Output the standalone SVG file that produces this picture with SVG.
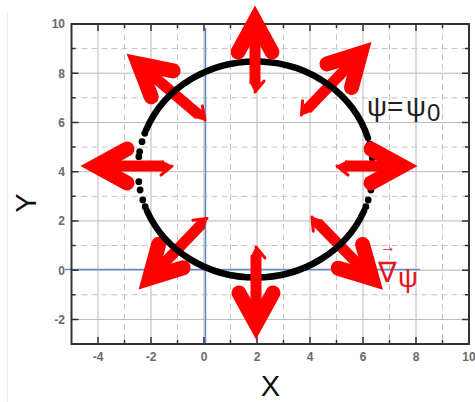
<svg xmlns="http://www.w3.org/2000/svg" xmlns:xlink="http://www.w3.org/1999/xlink" width="475" height="402" viewBox="0 0 475 402">
<style>
.gs{stroke:#b8b8b8;stroke-width:1;fill:none}
.gd{stroke:#c4c4c4;stroke-width:1;stroke-dasharray:6 4;fill:none}
.tk{stroke:#333;stroke-width:1.5;fill:none}
.tl{font-family:"Liberation Sans",Arial,sans-serif;font-size:12px;font-weight:bold;fill:#6a6a6a}
.ax{font-family:"Liberation Sans",Arial,sans-serif;font-size:29px;fill:#111}
.sh{stroke:#ff0000;stroke-width:11}
.blue{stroke:#5a8ed0;stroke-width:1.5;fill:none}
.dot{fill:#000}
</style>
<defs>
<g id="head"><polyline points="-47,-17 -16,0 -47,17" fill="none" stroke="#ff0000" stroke-width="15" stroke-linecap="round" stroke-linejoin="miter" stroke-miterlimit="4"/></g>
<g id="tail"><polygon points="-1,0 10,-5.5 10,5.5" fill="#ff0000"/><line x1="0" y1="0" x2="11" y2="9" stroke="#ff0000" stroke-width="3" stroke-linecap="round"/></g>
</defs>
<rect width="475" height="402" fill="#fff"/>
<line x1="7.5" y1="13" x2="7.5" y2="402" stroke="#ececec" stroke-width="1"/>
<g id="grid">
<path class="gs" d="M98 24V344M151 24V344M204 24V344M257 24V344M310 24V344M363 24V344M416 24V344"/>
<path class="gd" d="M124.5 24V344M177.5 24V344M230.5 24V344M283.5 24V344M336.5 24V344M389.5 24V344M442.5 24V344"/>
<path class="gs" d="M71.5 319.4H469M71.5 270.2H469M71.5 220.9H469M71.5 171.7H469M71.5 122.5H469M71.5 73.2H469"/>
<path class="gd" d="M71.5 294.8H469M71.5 245.5H469M71.5 196.3H469M71.5 147.1H469M71.5 97.8H469M71.5 48.6H469"/>
</g>
<g id="zero-lines">
<path class="blue" d="M205.5 28V344M65 269.5H420"/>
</g>
<g id="axes">
<rect x="71.5" y="24" width="397.5" height="320" fill="none" stroke="#333" stroke-width="2"/>
<path class="tk" d="M98 344V337M151 344V337M204 344V337M257 344V337M310 344V337M363 344V337M416 344V337M98 24V31M151 24V31M204 24V31M257 24V31M310 24V31M363 24V31M416 24V31M71.5 319.4H78.5M71.5 270.2H78.5M71.5 220.9H78.5M71.5 171.7H78.5M71.5 122.5H78.5M71.5 73.2H78.5M469 319.4H462M469 270.2H462M469 220.9H462M469 171.7H462M469 122.5H462M469 73.2H462"/>
<path class="tk" d="M124.5 344V340M177.5 344V340M230.5 344V340M283.5 344V340M336.5 344V340M389.5 344V340M442.5 344V340M124.5 24V28M177.5 24V28M230.5 24V28M283.5 24V28M336.5 24V28M389.5 24V28M442.5 24V28M71.5 294.8H75.5M71.5 245.5H75.5M71.5 196.3H75.5M71.5 147.1H75.5M71.5 97.8H75.5M71.5 48.6H75.5M469 294.8H465M469 245.5H465M469 196.3H465M469 147.1H465M469 97.8H465M469 48.6H465"/>
<g class="tl" text-anchor="end">
<text x="65" y="28.3">10</text><text x="65" y="77.5">8</text><text x="65" y="126.8">6</text><text x="65" y="176">4</text><text x="65" y="225.2">2</text><text x="65" y="274.5">0</text><text x="65" y="323.7">-2</text>
</g>
<g class="tl" text-anchor="middle">
<text x="98" y="361">-4</text><text x="151" y="361">-2</text><text x="204" y="361">0</text><text x="257" y="361">2</text><text x="310" y="361">4</text><text x="363" y="361">6</text><text x="416" y="361">8</text><text x="469" y="361">10</text>
</g>
<text class="ax" x="270.5" y="396" text-anchor="middle">X</text>
<text class="ax" transform="translate(36,203) rotate(-90)" text-anchor="middle">Y</text>
</g>
<g id="connectors">
<g id="arrow-ne" transform="translate(301.5,115) rotate(-46.2) scale(1,-1)"><line class="sh" x1="8" y1="0" x2="80" y2="0"/><use xlink:href="#tail" href="#tail"/><use xlink:href="#head" href="#head" x="101.5"/></g>
<g id="arrow-nw" transform="translate(205,120) rotate(-139.8)"><line class="sh" x1="8" y1="0" x2="82" y2="0"/><use xlink:href="#tail" href="#tail"/><use xlink:href="#head" href="#head" x="103"/></g>
<g id="arrow-sw" transform="translate(207,218.5) rotate(133.9)"><line class="sh" x1="8" y1="0" x2="78" y2="0"/><use xlink:href="#tail" href="#tail"/><use xlink:href="#head" href="#head" x="99"/></g>
<g id="arrow-se" transform="translate(312,217) rotate(45.7)"><line class="sh" x1="8" y1="0" x2="81" y2="0"/><use xlink:href="#tail" href="#tail"/><use xlink:href="#head" href="#head" x="102"/></g>
</g>
<g id="curve">
<path d="M146.1,130 A117.5,108 0 0 1 367.9,138" fill="none" stroke="#000" stroke-width="6.5" stroke-linecap="round"/>
<path d="M364,211 A117.5,108 0 0 1 147,211" fill="none" stroke="#000" stroke-width="6.5" stroke-linecap="round"/>
<g class="dot">
<circle cx="144.8" cy="133.3" r="3.4"/><circle cx="142" cy="141.7" r="3.4"/><circle cx="139.6" cy="151.7" r="3.4"/><circle cx="138.8" cy="156.7" r="3.4"/><circle cx="138.8" cy="181.7" r="3.4"/><circle cx="140.1" cy="190" r="3.4"/><circle cx="142.8" cy="200" r="3.4"/><circle cx="145.2" cy="206.7" r="3.4"/>
<circle cx="369.7" cy="144" r="3.4"/><circle cx="371.4" cy="152" r="3.4"/><circle cx="372.3" cy="158" r="3.4"/><circle cx="372.3" cy="181" r="3.4"/><circle cx="370.9" cy="190" r="3.4"/><circle cx="368.2" cy="200" r="3.4"/><circle cx="365.8" cy="206.7" r="3.4"/>
</g>
</g>
<g id="connectors-axial">
<g id="arrow-n" transform="translate(255,92) rotate(-90)"><line class="sh" x1="8" y1="0" x2="66" y2="0"/><use xlink:href="#tail" href="#tail"/><use xlink:href="#head" href="#head" x="87"/></g>
<g id="arrow-s" transform="translate(256,247) rotate(90) scale(1,-1)"><line class="sh" x1="8" y1="0" x2="72" y2="0"/><use xlink:href="#tail" href="#tail"/><use xlink:href="#head" href="#head" x="93"/></g>
<g id="arrow-w" transform="translate(172,166) rotate(180) scale(1,-1)"><line class="sh" x1="8" y1="0" x2="71" y2="0"/><use xlink:href="#tail" href="#tail"/><use xlink:href="#head" href="#head" x="92"/></g>
<g id="arrow-e" transform="translate(337,166)"><line class="sh" x1="8" y1="0" x2="60" y2="0"/><use xlink:href="#tail" href="#tail"/><use xlink:href="#head" href="#head" x="81"/></g>
</g>
<g id="label-psi">
<text font-family="'Liberation Sans','DejaVu Sans',sans-serif" font-size="28" fill="#222"><tspan x="367" y="116">ψ</tspan><tspan x="387" y="116">=</tspan><tspan x="406" y="116">ψ</tspan><tspan x="427" y="121" font-size="24">0</tspan></text>
</g>
<g id="label-grad">
<text font-family="'Liberation Sans','DejaVu Sans',sans-serif" fill="#e8141e"><tspan x="378" y="282" font-size="28">∇</tspan><tspan x="398" y="287" font-size="28">ψ</tspan></text>
<text x="380" y="252" font-family="'Liberation Sans','DejaVu Sans',sans-serif" font-size="16" fill="#e8141e">→</text>
</g>
</svg>
